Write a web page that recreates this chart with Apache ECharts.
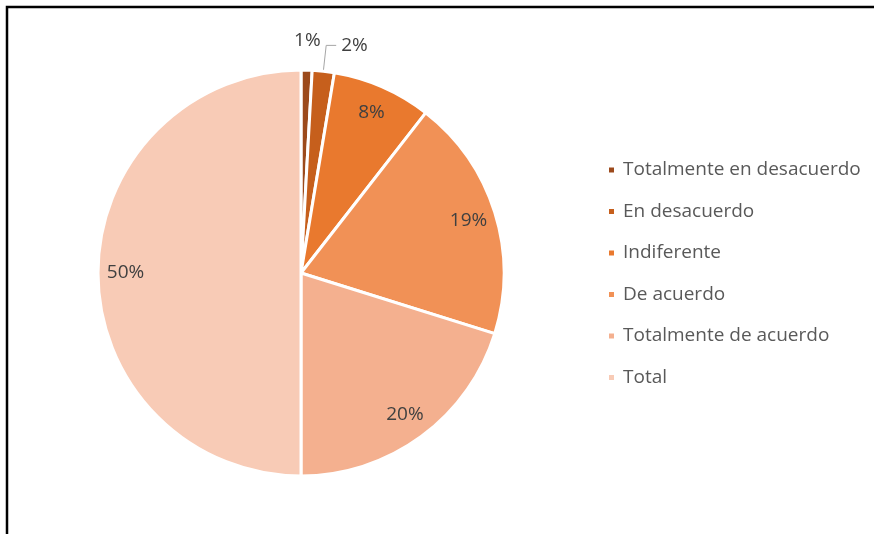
<!DOCTYPE html>
<html>
<head>
<meta charset="utf-8">
<script src="https://cdn.jsdelivr.net/npm/echarts@6/dist/echarts.min.js"></script>
<style>
  html, body { margin: 0; padding: 0; background: #ffffff; }
  #chart { width: 874px; height: 534px; }
</style>
</head>
<body>
<div id="chart"></div>
<script>
// Survey answers (counts) and the colour of each answer
const categories = ['Totalmente en desacuerdo', 'En desacuerdo', 'Indiferente', 'De acuerdo', 'Totalmente de acuerdo', 'Total'];
const counts = [1, 2, 9, 22, 23, 57];
const colors = ['#9c4a1c', '#c65f1c', '#e9792e', '#f19156', '#f4b08f', '#f8cbb6'];

const labelFont = { fontFamily: 'Open Sans', fontSize: 19, color: '#404040' };
const pct = p => Math.round(p.percent) + '%';

const center = [301, 273];
const R = 203;

const chart = echarts.init(document.getElementById('chart'), null, { renderer: 'canvas' });

// Visible slices
const slices = categories.map((name, i) => ({
  name, value: counts[i],
  itemStyle: { color: colors[i] }
}));

// Label ring: inside labels near the rim, the small slice gets a leader line
const ringLabels = categories.map((name, i) => ({
  name, value: counts[i],
  label: i === 0 ? { show: false }
       : i === 1 ? { show: true, position: 'outside' }
       : { show: true, position: 'inside' },
  labelLine: { show: i === 1 }
}));

// Outer ring: label of the tiniest slice just above the rim
const outerLabels = categories.map((name, i) => ({
  name, value: counts[i],
  label: { show: i === 0, position: 'inside' }
}));

chart.setOption({
  backgroundColor: '#ffffff',
  animation: false,
  graphic: [{
    type: 'rect',
    shape: { x: 7, y: 7, width: 900, height: 600 },
    style: { fill: 'none', stroke: '#000000', lineWidth: 2.5 },
    silent: true
  }],
  legend: {
    orient: 'vertical',
    left: 602,
    top: 154,
    icon: 'rect',
    itemWidth: 7,
    itemHeight: 7,
    itemGap: 19.5,
    textStyle: { fontFamily: 'Open Sans', fontSize: 19, color: '#595959', lineHeight: 22, padding: [0, 0, 0, 3] },
    data: categories
  },
  series: [
    {
      type: 'pie',
      center, radius: R,
      startAngle: 90, clockwise: true,
      silent: true,
      label: { show: false },
      labelLine: { show: false },
      itemStyle: { borderColor: '#ffffff', borderWidth: 3 },
      data: slices
    },
    {
      type: 'pie',
      center, radius: [142, R],
      startAngle: 90, clockwise: true,
      silent: true,
      avoidLabelOverlap: false,
      itemStyle: { color: 'rgba(0,0,0,0)', borderWidth: 0 },
      label: Object.assign({ formatter: pct }, labelFont),
      labelLine: { length: 26, length2: 10, lineStyle: { color: '#a6a6a6', width: 1 } },
      data: ringLabels
    },
    {
      type: 'pie',
      center, radius: [R, R + 52],
      startAngle: 90, clockwise: true,
      silent: true,
      itemStyle: { color: 'rgba(0,0,0,0)', borderWidth: 0 },
      label: Object.assign({ formatter: pct }, labelFont),
      labelLine: { show: false },
      data: outerLabels
    }
  ]
});
</script>
</body>
</html>
